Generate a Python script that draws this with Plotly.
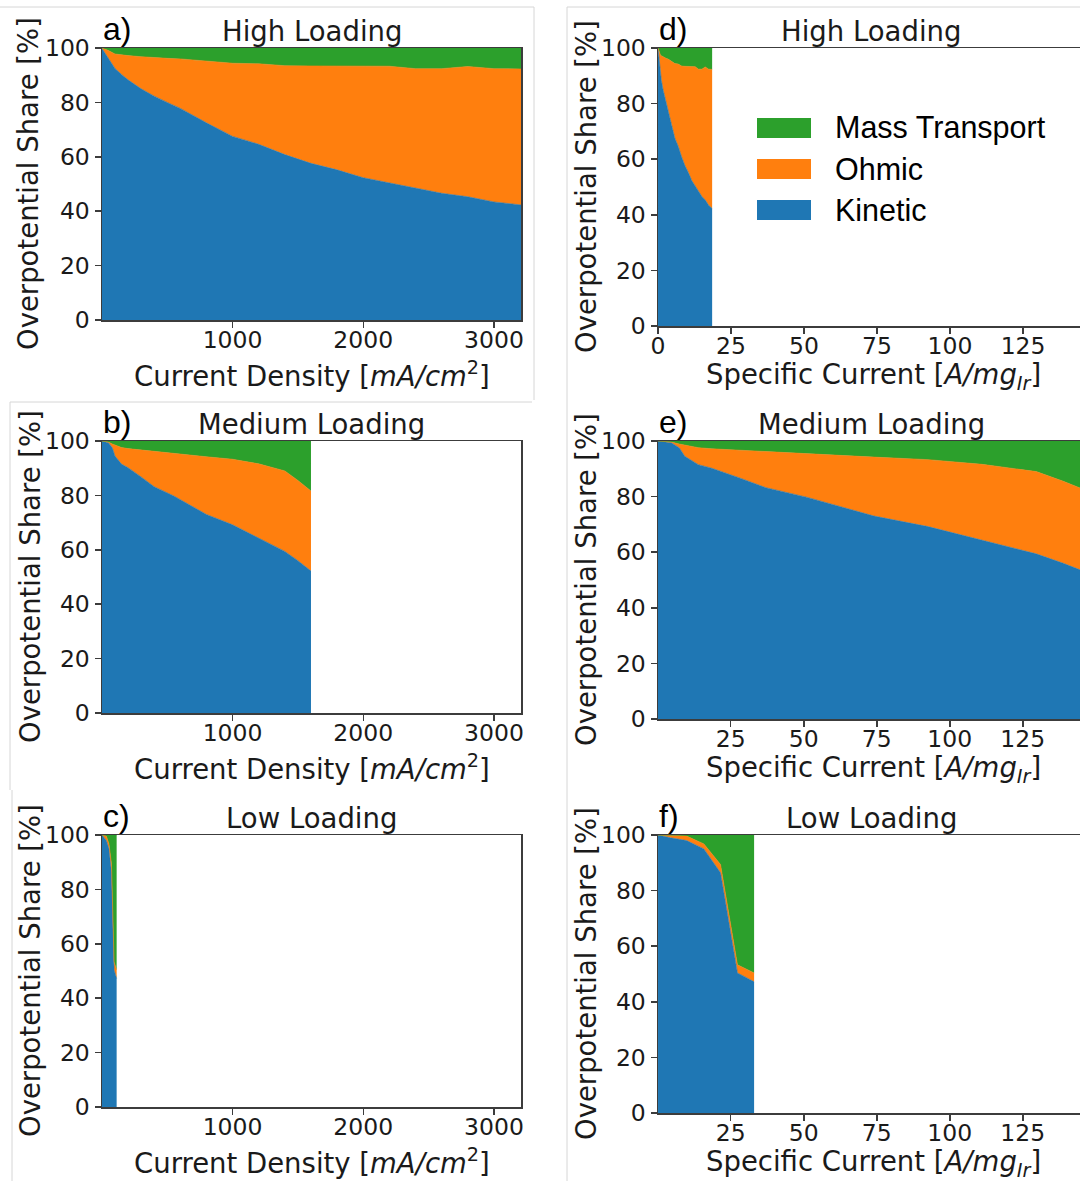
import plotly.graph_objects as go

W, H = 1080, 1181

KIN_COLOR = "#1f77b4"
OHM_COLOR = "#ff7f0e"
MASS_COLOR = "#2ca02c"

# ---------------- High loading ----------------
high_current = [1, 50, 100, 150, 200, 300, 400, 500, 600, 800, 1000, 1200, 1400,
                1600, 1800, 2000, 2200, 2400, 2600, 2800, 3000, 3207]
high_specific = [0.006, 0.29, 0.58, 0.87, 1.16, 1.73, 2.31, 2.89, 3.47, 4.62, 5.78,
                 6.94, 8.09, 9.25, 10.40, 11.56, 12.72, 13.87, 15.03, 16.18, 17.34, 18.54]
high_kinetic = [99.8, 96.3, 92.5, 90.3, 88.3, 85.0, 82.3, 80.0, 77.8, 72.5, 67.5,
                64.6, 60.8, 57.6, 55.2, 52.3, 50.4, 48.5, 46.6, 45.3, 43.4, 42.3]
high_ohmic = [0.2, 2.8, 5.3, 7.1, 8.9, 11.8, 14.1, 16.2, 18.2, 22.8, 26.9,
              29.6, 32.7, 35.8, 38.2, 41.1, 42.9, 43.9, 45.8, 47.9, 49.0, 50.0]
high_mass = [0.0, 0.9, 2.2, 2.6, 2.8, 3.2, 3.6, 3.8, 4.0, 4.7, 5.6,
             5.8, 6.5, 6.6, 6.6, 6.6, 6.7, 7.6, 7.6, 6.8, 7.6, 7.7]

# ---------------- Medium loading ----------------
med_current = [1, 50, 80, 100, 150, 200, 300, 400, 550, 800, 1000, 1200, 1400, 1500, 1600]
med_specific = [0.09, 4.63, 7.41, 9.26, 13.89, 18.52, 27.78, 37.04, 50.93, 74.07,
                92.59, 111.11, 129.63, 138.89, 148.15]
med_kinetic = [100, 99.4, 97.5, 94.5, 91.5, 90.2, 86.8, 83.2, 79.8, 73.0, 69.2, 64.4, 59.4, 56.0, 52.2]
med_ohmic = [0, 0.2, 1.4, 4.0, 6.1, 7.0, 9.9, 12.8, 15.6, 21.2, 24.1, 27.2, 29.6, 29.5, 29.4]
med_mass = [0, 0.4, 1.1, 1.5, 2.4, 2.8, 3.3, 4.0, 4.6, 5.8, 6.7, 8.4, 11.0, 14.5, 18.4]

# ---------------- Low loading ----------------
low_current = [1, 15, 34, 54, 73.5, 93.4, 113]
low_specific = [0.1, 4.4, 9.9, 15.8, 21.5, 27.3, 33.0]
low_kinetic = [100, 99.0, 98.0, 95.0, 86.4, 50.4, 47.2]
low_ohmic = [0, 0.8, 1.6, 1.8, 3.0, 2.9, 3.2]
low_mass = [0, 0.2, 0.4, 3.2, 10.6, 46.7, 49.6]

y_ticks = [0, 20, 40, 60, 80, 100]
current_ticks = [1000, 2000, 3000]
specific_ticks = [0, 25, 50, 75, 100, 125]

TICK_FONT = dict(family="DejaVu Sans", size=23.5, color="#1a1a1a")
LABEL_FONT = dict(family="DejaVu Sans", size=27.5, color="#1a1a1a")
TITLE_FONT = dict(family="DejaVu Sans", size=27.5, color="#1a1a1a")
LETTER_FONT = dict(family="Liberation Sans", size=32, color="#000000")
LEGEND_FONT = dict(family="Liberation Sans", size=30.5, color="#000000")


def fx(p):
    return p / W


def fy(p):
    return 1 - p / H


# column geometry (pixels)
LEFT = dict(x0=102, x1=521, tops=[48, 441, 835], bots=[320, 713, 1107])
RIGHT = dict(x0=658, x1=1080, tops=[48, 441, 835], bots=[326, 719, 1113])

CUR_LABEL = "Current Density [<i>mA/cm</i><sup>2</sup>]"
SPEC_LABEL = "Specific Current [<i>A/mg</i><sub><i>Ir</i></sub>]"

panels = [
    dict(letter="a)", title="High Loading", col=LEFT, row=0, x=high_current,
         kin=high_kinetic, ohm=high_ohmic, mass=high_mass, xr=[1, 3207], ticks=current_ticks,
         xlabel=CUR_LABEL, ylab_x=28),
    dict(letter="b)", title="Medium Loading", col=LEFT, row=1, x=med_current,
         kin=med_kinetic, ohm=med_ohmic, mass=med_mass, xr=[1, 3207], ticks=current_ticks,
         xlabel=CUR_LABEL, ylab_x=30),
    dict(letter="c)", title="Low Loading", col=LEFT, row=2, x=low_current,
         kin=low_kinetic, ohm=low_ohmic, mass=low_mass, xr=[1, 3207], ticks=current_ticks,
         xlabel=CUR_LABEL, ylab_x=30),
    dict(letter="d)", title="High Loading", col=RIGHT, row=0, x=high_specific,
         kin=high_kinetic, ohm=high_ohmic, mass=high_mass, xr=[0, 144.5], ticks=specific_ticks,
         xlabel=SPEC_LABEL, ylab_x=586),
    dict(letter="e)", title="Medium Loading", col=RIGHT, row=1, x=med_specific,
         kin=med_kinetic, ohm=med_ohmic, mass=med_mass, xr=[0.09, 144.6], ticks=specific_ticks,
         xlabel=SPEC_LABEL, ylab_x=586),
    dict(letter="f)", title="Low Loading", col=RIGHT, row=2, x=low_specific,
         kin=low_kinetic, ohm=low_ohmic, mass=low_mass, xr=[0.09, 144.6], ticks=specific_ticks,
         xlabel=SPEC_LABEL, ylab_x=586),
]

fig = go.Figure()
layout = dict(
    width=W, height=H, margin=dict(l=0, r=0, t=0, b=0, pad=0), autosize=False,
    paper_bgcolor="white", plot_bgcolor="white", showlegend=False,
    annotations=[], shapes=[],
)

axis_style = dict(
    showline=True, linecolor="#3c3c3c", linewidth=1.5,
    ticks="outside", ticklen=6, tickwidth=1.5, tickcolor="#3c3c3c",
    showgrid=False, zeroline=False, tickfont=TICK_FONT, fixedrange=True,
    automargin=False,
)

for i, p in enumerate(panels, start=1):
    sfx = "" if i == 1 else str(i)
    xa, ya = "x" + sfx, "y" + sfx
    col, r = p["col"], p["row"]
    top, bot = col["tops"][r], col["bots"][r]
    is_left = col is LEFT

    for name, vals, colr in (("Kinetic", p["kin"], KIN_COLOR),
                             ("Ohmic", p["ohm"], OHM_COLOR),
                             ("Mass Transport", p["mass"], MASS_COLOR)):
        fig.add_trace(go.Scatter(
            x=p["x"], y=vals, name=name, mode="lines", stackgroup="g" + str(i),
            line=dict(width=0.6, color=colr), fillcolor=colr,
            xaxis=xa, yaxis=ya, hoverinfo="skip",
        ))

    layout["xaxis" + sfx] = dict(
        axis_style, domain=[fx(col["x0"]), fx(col["x1"])], range=p["xr"],
        tickmode="array", tickvals=p["ticks"], anchor=ya, mirror=True,
        ticklabelstandoff=-8,
    )
    layout["yaxis" + sfx] = dict(
        axis_style, domain=[fy(bot), fy(top)], range=[0, 100],
        tickmode="array", tickvals=y_ticks, anchor=xa, mirror=is_left,
    )

    cx = (col["x0"] + col["x1"]) / 2 if is_left else 871
    # panel title
    layout["annotations"].append(dict(
        text=p["title"], x=fx(cx), y=fy(top - 17), xref="paper", yref="paper",
        xanchor="center", yanchor="middle", showarrow=False, font=TITLE_FONT))
    # panel letter
    layout["annotations"].append(dict(
        text=p["letter"], x=fx(col["x0"] - 1), y=fy(top - 19), xref="paper", yref="paper",
        xanchor="left", yanchor="middle", showarrow=False, font=LETTER_FONT))
    # x-axis label
    layout["annotations"].append(dict(
        text=p["xlabel"], x=fx(311.5 if is_left else 873),
        y=fy(bot + (54 if is_left else 50)),
        xref="paper", yref="paper", xanchor="center", yanchor="middle",
        showarrow=False, font=LABEL_FONT))
    # y-axis label
    layout["annotations"].append(dict(
        text="Overpotential Share [%]", x=fx(p["ylab_x"]), y=fy((top + bot) / 2),
        xref="paper", yref="paper", xanchor="center", yanchor="middle",
        textangle=-90, showarrow=False, font=LABEL_FONT))

# legend drawn inside panel d
legend_rows = [("Mass Transport", MASS_COLOR, 128), ("Ohmic", OHM_COLOR, 169), ("Kinetic", KIN_COLOR, 210)]
for label, colr, yc in legend_rows:
    layout["shapes"].append(dict(
        type="rect", xref="paper", yref="paper", x0=fx(757), x1=fx(811),
        y0=fy(yc + 10), y1=fy(yc - 10), fillcolor=colr, line=dict(width=0)))
    layout["annotations"].append(dict(
        text=label, x=fx(833), y=fy(yc), xref="paper", yref="paper",
        xanchor="left", yanchor="middle", showarrow=False, font=LEGEND_FONT))

# thin frames around the figure tiles
FRAME = dict(color="#d6d6d6", width=1)
for x0, y0, x1, y1 in [(0, 7, 534, 7), (534, 7, 534, 400), (567, 7, 1080, 7),
                       (567, 7, 567, 1181), (10, 402, 532, 402), (10, 402, 10, 790),
                       (12, 790, 12, 1181)]:
    layout["shapes"].append(dict(type="line", xref="paper", yref="paper",
                                 x0=fx(x0), y0=fy(y0), x1=fx(x1), y1=fy(y1), line=FRAME))

fig.update_layout(**layout)

# page without body margin or scrollbars so the figure fills the window exactly
page_js = (
    "document.documentElement.style.margin='0';"
    "document.documentElement.style.overflow='hidden';"
    "document.body.style.margin='0';"
    "document.body.style.padding='0';"
    "document.body.style.overflow='hidden';"
)
fig.write_html("out.html", post_script=page_js, config={"staticPlot": True})
